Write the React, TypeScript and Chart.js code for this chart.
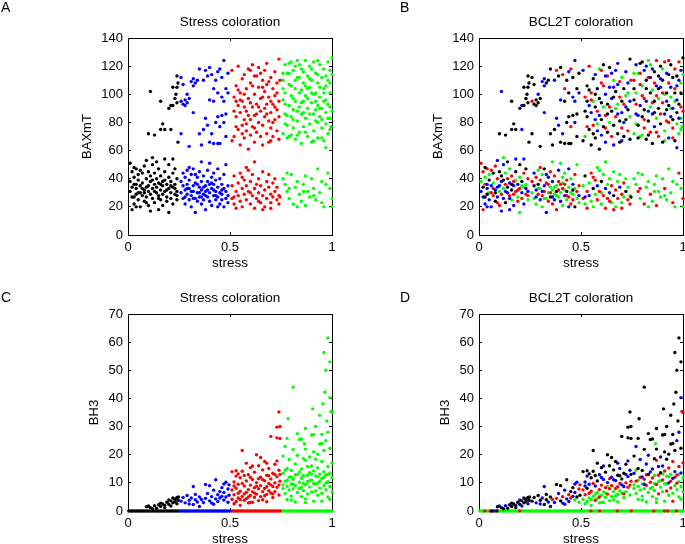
import { useEffect, useRef } from "react";
import { Chart, registerables } from "chart.js";

Chart.register(...registerables);

type Pt = [number, number, number]; // [stress, value, BCL2T class 0..3]

// ---------------- BAXmT vs stress (panels A, B) ----------------
// grouped by stress quartile (colour in panel A); third entry = BCL2T class (colour in panel B)
const baxStressQ1Low: Pt[] = [
  [0.01,38,3],[0.01,31,1],[0.02,45,2],[0.02,27,1],[0.02,34,0],[0.03,41,3],[0.03,22,1],[0.03,36,2],[0.04,29,0],[0.04,47,2],
  [0.04,33,1],[0.05,25,1],[0.05,39,0],[0.05,43,3],[0.06,30,2],[0.06,20,1],[0.06,35,1],[0.07,44,0],[0.07,28,2],[0.07,37,3],
  [0.08,32,1],[0.08,49,2],[0.08,24,0],[0.09,40,2],[0.09,34,1],[0.09,27,1],[0.10,45,0],[0.10,31,3],[0.10,21,2],[0.11,38,1],
  [0.11,29,2],[0.11,42,0],[0.12,33,3],[0.12,26,1],[0.12,50,1],[0.13,36,2],[0.13,44,3],[0.13,23,0],[0.14,30,1],[0.14,40,2],
  [0.14,34,0],[0.15,28,2],[0.15,47,3],[0.15,37,1],[0.16,25,3],[0.16,32,0],[0.16,42,2],[0.17,35,1],[0.17,29,2],[0.17,21,1],
  [0.18,39,3],[0.18,31,2],[0.18,45,0],[0.19,27,3],[0.19,36,1],[0.19,24,2],[0.20,33,2],[0.20,41,3],[0.20,16,3],[0.21,30,1],
  [0.21,38,0],[0.21,26,2],[0.22,44,2],[0.22,34,3],[0.22,22,1],[0.23,29,2],[0.23,47,0],[0.23,36,3],[0.24,31,1],[0.24,25,3],
  [0.24,40,2],[0.02,18,2],[0.04,20,1],[0.01,51,2],[0.03,48,0],[0.06,46,2],[0.09,53,1],[0.12,55,3],[0.14,52,0],[0.18,54,1],
  [0.20,50,0],[0.22,54,1],[0.11,17,1],[0.15,18,1],[0.08,30,0],[0.13,31,1],[0.19,32,2],[0.16,36,0],[0.10,35,1],[0.07,33,2],
  [0.05,30,3],[0.21,35,3],[0.23,33,1],[0.17,38,2],[0.12,39,0],[0.04,36,1],[0.24,28,2],[0.15,26,1],[0.09,23,2],[0.03,27,0],
];
const baxStressQ1High: Pt[] = [
  [0.11,102,1],[0.10,72,0],[0.13,71,0],[0.16,75,0],[0.17,79,0],[0.18,75,0],[0.16,95,0],[0.21,92,1],[0.22,92,0],[0.22,105,0],
  [0.24,105,0],[0.245,108,0],[0.23,97,0],[0.24,94,0],[0.21,75,1],[0.245,66,0],[0.20,90,0],[0.235,100,0],[0.24,113,0],
];
const baxStressQ2High: Pt[] = [
  [0.26,112,0],[0.27,107,0],[0.26,95,2],[0.27,93,0],[0.28,96,0],[0.29,94,0],[0.28,92,0],[0.30,97,0],[0.29,100,1],[0.31,109,1],
  [0.32,111,1],[0.32,106,1],[0.33,108,0],[0.34,110,0],[0.32,87,1],[0.26,72,0],[0.30,63,0],[0.35,72,0],[0.37,75,0],[0.36,64,0],
  [0.39,78,1],[0.38,83,1],[0.40,66,0],[0.41,72,1],[0.42,65,0],[0.44,65,0],[0.45,65,0],[0.43,80,0],[0.44,84,0],[0.46,85,0],
  [0.47,80,1],[0.48,86,0],[0.45,77,2],[0.40,96,1],[0.42,95,0],[0.44,101,0],[0.46,98,1],[0.47,95,1],[0.48,104,0],[0.49,101,1],
  [0.39,113,0],[0.38,117,2],[0.40,119,0],[0.41,114,2],[0.43,110,0],[0.44,116,1],[0.45,118,2],[0.46,112,0],[0.47,124,1],[0.49,115,0],
  [0.37,110,1],[0.42,104,2],[0.35,118,0],[0.48,70,0],
];
const baxStressQ2Low: Pt[] = [
  [0.26,38,2],[0.26,30,3],[0.27,44,1],[0.27,26,3],[0.27,35,0],[0.28,41,2],[0.28,22,3],[0.28,32,1],[0.29,29,2],[0.29,46,3],
  [0.29,36,0],[0.30,25,1],[0.30,39,2],[0.30,33,3],[0.31,28,2],[0.31,43,3],[0.31,20,3],[0.32,35,1],[0.32,31,2],[0.32,47,0],
  [0.33,26,3],[0.33,37,2],[0.33,16,1],[0.34,30,3],[0.34,41,1],[0.34,24,2],[0.35,34,3],[0.35,27,0],[0.35,45,2],[0.36,32,3],
  [0.36,22,2],[0.36,38,1],[0.37,29,3],[0.37,42,2],[0.37,25,1],[0.38,35,3],[0.38,18,2],[0.38,31,0],[0.39,27,3],[0.39,46,1],
  [0.39,38,2],[0.40,30,3],[0.40,24,1],[0.40,51,3],[0.41,33,2],[0.41,41,3],[0.41,21,3],[0.42,28,1],[0.42,36,2],[0.42,44,3],
  [0.43,31,0],[0.43,25,3],[0.43,39,2],[0.44,34,3],[0.44,27,2],[0.44,47,1],[0.45,30,3],[0.45,22,2],[0.45,40,3],[0.46,36,1],
  [0.46,29,3],[0.46,25,2],[0.47,33,3],[0.47,43,2],[0.47,20,0],[0.48,31,2],[0.48,26,3],[0.48,50,3],[0.49,35,2],[0.49,28,1],
  [0.49,23,3],[0.30,48,2],[0.36,52,3],[0.44,20,1],[0.33,43,1],[0.39,32,2],[0.41,37,3],[0.28,27,1],[0.35,30,2],[0.32,26,3],
  [0.37,34,3],[0.43,28,2],[0.46,32,0],[0.34,36,2],[0.29,33,3],[0.31,31,1],[0.38,28,3],[0.40,36,2],[0.42,32,3],[0.36,27,1],
];
const baxStressQ3High: Pt[] = [
  [0.51,117,1],[0.52,98,2],[0.52,70,3],[0.53,106,0],[0.53,84,0],[0.54,120,2],[0.54,92,1],[0.54,75,0],[0.55,101,2],[0.55,64,0],
  [0.55,87,1],[0.56,111,0],[0.56,78,2],[0.56,95,3],[0.57,82,1],[0.57,69,0],[0.57,114,1],[0.58,104,0],[0.58,88,2],[0.58,74,1],
  [0.59,118,3],[0.59,97,0],[0.59,61,0],[0.60,82,0],[0.60,108,2],[0.60,71,1],[0.61,91,3],[0.61,121,0],[0.61,77,0],[0.62,100,1],
  [0.62,85,2],[0.62,66,1],[0.63,113,2],[0.63,93,0],[0.63,73,0],[0.64,80,3],[0.64,105,1],[0.64,119,0],[0.65,88,0],[0.65,70,2],
  [0.65,97,1],[0.66,110,3],[0.66,78,0],[0.66,64,1],[0.67,102,0],[0.67,84,2],[0.67,117,1],[0.68,93,3],[0.68,72,0],[0.68,107,1],
  [0.69,81,0],[0.69,98,2],[0.69,66,0],[0.70,112,3],[0.70,87,1],[0.70,76,2],[0.71,104,0],[0.71,93,2],[0.71,70,0],[0.72,116,1],
  [0.72,82,0],[0.72,99,3],[0.73,108,1],[0.73,89,0],[0.73,74,2],[0.74,125,0],[0.74,95,1],[0.74,68,0],[0.52,88,0],[0.53,77,2],
  [0.57,100,0],[0.59,85,1],[0.61,106,2],[0.63,86,0],[0.65,115,1],[0.67,90,3],[0.69,109,2],[0.71,80,1],[0.73,101,3],[0.55,96,2],
  [0.60,94,0],[0.62,76,2],[0.66,98,0],[0.68,86,1],[0.70,95,0],[0.72,91,1],[0.58,79,3],[0.64,91,2],[0.51,67,0],[0.54,103,0],
  [0.56,72,0],[0.62,113,1],[0.70,67,1],[0.74,84,3],[0.60,117,2],[0.68,122,1],[0.66,105,1],[0.57,91,0],[0.53,95,0],[0.745,110,2],
];
const baxStressQ3Low: Pt[] = [
  [0.51,35,3],[0.51,26,2],[0.52,42,0],[0.52,22,3],[0.53,31,2],[0.53,19,2],[0.54,37,3],[0.54,28,1],[0.55,44,2],[0.55,24,3],
  [0.56,33,0],[0.56,20,3],[0.57,39,2],[0.57,29,3],[0.58,35,1],[0.58,25,2],[0.59,46,3],[0.59,31,2],[0.60,22,3],[0.60,38,0],
  [0.61,28,2],[0.61,43,3],[0.62,33,1],[0.62,52,3],[0.62,19,2],[0.63,36,3],[0.63,26,2],[0.64,40,3],[0.64,30,1],[0.65,23,3],
  [0.65,35,2],[0.66,45,3],[0.66,28,0],[0.67,32,2],[0.67,20,3],[0.68,38,3],[0.68,26,2],[0.69,34,1],[0.69,43,3],[0.70,29,2],
  [0.70,23,3],[0.71,37,2],[0.71,27,3],[0.72,40,3],[0.72,31,0],[0.73,25,2],[0.73,34,3],[0.74,22,2],[0.74,28,3],[0.58,48,3],
  [0.66,18,2],[0.52,27,1],[0.56,41,2],[0.60,30,3],[0.64,24,2],[0.70,19,2],[0.745,27,0],
];
const baxStressQ4High: Pt[] = [
  [0.76,110,2],[0.76,96,0],[0.76,72,3],[0.77,121,1],[0.77,86,1],[0.77,101,3],[0.78,115,3],[0.78,78,0],[0.78,69,0],[0.79,107,2],
  [0.79,92,1],[0.79,122,0],[0.80,84,0],[0.80,99,2],[0.80,71,3],[0.81,117,1],[0.81,89,0],[0.81,76,2],[0.82,104,0],[0.82,68,0],
  [0.82,95,1],[0.83,112,2],[0.83,81,0],[0.83,124,3],[0.84,91,3],[0.84,73,2],[0.84,101,0],[0.85,118,1],[0.85,86,1],[0.85,65,0],
  [0.86,108,2],[0.86,95,0],[0.86,77,1],[0.87,124,2],[0.87,83,3],[0.87,99,2],[0.88,113,0],[0.88,70,2],[0.88,90,0],[0.89,105,1],
  [0.89,79,0],[0.89,120,0],[0.90,94,2],[0.90,66,0],[0.90,110,0],[0.91,86,1],[0.91,123,2],[0.91,74,3],[0.92,101,0],[0.92,115,1],
  [0.92,81,2],[0.93,92,0],[0.93,69,1],[0.93,108,2],[0.94,121,0],[0.94,84,1],[0.94,98,3],[0.95,76,2],[0.95,112,0],[0.95,90,1],
  [0.96,104,2],[0.96,67,0],[0.96,118,2],[0.97,87,0],[0.97,96,1],[0.97,79,3],[0.98,110,1],[0.98,123,2],[0.98,72,3],[0.99,91,2],
  [0.99,101,0],[0.99,83,3],[1.00,126,0],[1.00,114,3],[1.00,88,2],[0.995,77,3],[0.76,104,0],[0.77,93,2],[0.78,85,1],[0.79,115,2],
  [0.80,106,3],[0.81,97,2],[0.82,120,1],[0.83,88,1],[0.84,112,1],[0.85,94,2],[0.86,116,0],[0.87,106,1],[0.88,97,3],[0.89,86,2],
  [0.90,118,3],[0.91,100,3],[0.92,89,0],[0.93,114,0],[0.94,105,1],[0.95,82,0],[0.96,95,3],[0.97,113,0],[0.98,93,0],[0.99,117,1],
  [0.79,70,3],[0.83,71,0],[0.87,73,2],[0.91,67,3],[0.95,69,2],[0.99,75,3],[0.97,62,1],[0.93,80,2],[0.89,111,1],[0.85,103,3],
  [0.81,82,2],[0.77,79,3],[0.80,123,0],[0.86,87,0],[0.92,95,1],[0.94,90,3],[0.96,101,0],[0.98,83,1],[0.84,121,3],[0.88,104,0],
  [0.90,101,2],[0.82,110,0],[0.76,115,3],[0.93,124,2],[0.97,106,1],[0.99,108,3],
];
const baxStressQ4Low: Pt[] = [
  [0.76,40,3],[0.77,36,3],[0.78,31,2],[0.79,26,3],[0.80,43,3],[0.81,22,2],[0.82,34,3],[0.83,38,3],[0.84,29,2],[0.85,24,3],
  [0.86,36,3],[0.87,21,2],[0.88,31,3],[0.89,27,3],[0.90,40,3],[0.91,33,2],[0.92,25,3],[0.93,47,3],[0.94,30,3],[0.95,23,2],
  [0.96,20,3],[0.97,36,3],[0.98,44,2],[0.99,33,3],[1.00,26,2],[0.87,42,3],[0.83,20,3],[0.91,28,3],[0.79,33,2],[0.95,38,3],
  [1.00,20,3],[0.86,31,3],[0.78,44,3],
];

// ---------------- BH3 vs stress (panels C, D) ----------------
const bh3ZeroQ1: Pt[] = [
  [0.004,0,3],[0.013,0,3],[0.021,0,3],[0.029,0,2],[0.038,0,3],[0.046,0,3],[0.055,0,2],[0.062,0,0],[0.071,0,1],[0.079,0,2],
  [0.088,0,0],[0.096,0,3],[0.104,0,3],[0.113,0,3],[0.121,0,3],[0.132,0,3],[0.14,0,3],[0.148,0,3],[0.157,0,3],[0.166,0,3],
  [0.174,0,3],[0.183,0,3],[0.191,0,3],[0.2,0,2],[0.209,0,3],[0.217,0,3],[0.226,0,3],[0.234,0,3],[0.243,0,3],
];
const bh3ZeroQ2: Pt[] = [
  [0.251,0,3],[0.259,0,3],[0.268,0,3],[0.277,0,3],[0.285,0,3],[0.293,0,3],[0.302,0,3],[0.311,0,3],[0.319,0,3],[0.328,0,3],
  [0.336,0,3],[0.345,0,3],[0.353,0,3],[0.362,0,3],[0.37,0,3],[0.379,0,3],[0.388,0,3],[0.396,0,3],[0.405,0,3],[0.413,0,3],
  [0.421,0,3],[0.43,0,3],[0.439,0,3],[0.447,0,3],[0.456,0,3],[0.464,0,3],[0.473,0,3],[0.481,0,3],[0.49,0,3],[0.498,0,3],
];
const bh3ZeroQ3: Pt[] = [
  [0.507,0,3],[0.515,0,3],[0.524,0,3],[0.532,0,3],[0.541,0,3],[0.549,0,2],[0.558,0,3],[0.566,0,3],[0.575,0,3],[0.584,0,3],
  [0.592,0,2],[0.601,0,3],[0.609,0,3],[0.618,0,3],[0.626,0,3],[0.635,0,3],[0.643,0,3],[0.652,0,3],[0.661,0,3],[0.669,0,3],
  [0.678,0,2],[0.686,0,3],[0.695,0,3],[0.703,0,3],[0.712,0,3],[0.72,0,3],[0.729,0,3],[0.737,0,3],[0.746,0,2],
];
const bh3ZeroQ4: Pt[] = [
  [0.755,0,3],[0.763,0,3],[0.771,0,3],[0.78,0,3],[0.789,0,3],[0.797,0,3],[0.806,0,3],[0.814,0,3],[0.823,0,3],[0.831,0,3],
  [0.84,0,3],[0.849,0,3],[0.857,0,2],[0.866,0,3],[0.874,0,3],[0.883,0,3],[0.891,0,3],[0.9,0,3],[0.909,0,2],[0.917,0,3],
  [0.926,0,2],[0.934,0,3],[0.943,0,3],[0.951,0,3],[0.96,0,3],[0.968,0,2],[0.977,0,3],[0.985,0,3],[0.994,0,3],[1.0,0,3],
];
const bh3StressQ1: Pt[] = [
  [0.09,1.5,0],[0.10,1.8,1],[0.11,1.2,0],[0.12,0.8,0],[0.13,1.9,1],[0.14,1.0,0],[0.15,2.2,0],[0.16,1.6,0],[0.17,2.5,0],[0.18,2.0,1],
  [0.19,3.1,0],[0.20,2.4,0],[0.21,3.6,0],[0.21,1.8,1],[0.22,2.9,0],[0.23,4.2,0],[0.23,3.3,0],[0.24,2.6,1],[0.24,4.8,0],[0.245,3.8,0],
  [0.18,1.2,0],[0.20,3.9,1],[0.22,4.6,0],[0.16,2.8,0],[0.248,5.0,0],
];
const bh3StressQ2: Pt[] = [
  [0.26,3.5,0],[0.27,4.8,0],[0.28,2.9,1],[0.29,5.5,0],[0.30,3.8,0],[0.31,4.6,1],[0.32,8.7,1],[0.32,2.3,0],[0.33,5.9,0],[0.34,3.2,1],
  [0.35,1.6,0],[0.36,4.1,2],[0.37,3.0,1],[0.38,4.5,2],[0.38,9.4,0],[0.39,6.2,1],[0.40,3.6,0],[0.40,9.0,0],[0.41,5.1,2],[0.41,2.8,1],
  [0.42,7.4,1],[0.43,4.3,1],[0.43,11.1,0],[0.44,5.8,2],[0.44,3.4,1],[0.45,6.9,0],[0.45,4.6,2],[0.46,8.3,0],[0.46,5.2,1],[0.47,3.9,3],
  [0.47,6.6,1],[0.48,10.2,1],[0.48,5.0,0],[0.49,7.8,2],[0.49,3.1,3],[0.495,9.3,2],[0.495,5.6,0],[0.30,2.5,1],[0.35,5.0,0],[0.42,2.4,1],
  [0.47,9.6,1],[0.33,4.0,0],
];
const bh3StressQ3: Pt[] = [
  [0.51,4.2,3],[0.51,7.5,2],[0.51,14.0,0],[0.52,2.6,3],[0.52,10.3,1],[0.52,5.8,2],[0.53,3.4,3],[0.53,8.1,0],[0.53,12.4,1],[0.54,6.3,2],
  [0.54,4.6,3],[0.54,9.5,1],[0.55,2.0,3],[0.55,7.0,2],[0.55,11.8,0],[0.56,21.5,0],[0.56,5.2,3],[0.56,14.1,0],[0.57,3.8,2],[0.57,8.9,1],
  [0.57,6.1,3],[0.58,10.7,0],[0.58,4.4,3],[0.58,17.0,0],[0.59,7.6,2],[0.59,2.9,3],[0.59,12.9,1],[0.60,5.5,3],[0.60,9.2,2],[0.60,15.4,0],
  [0.61,3.1,3],[0.61,6.8,3],[0.61,11.2,1],[0.62,8.3,2],[0.62,4.9,3],[0.62,13.8,0],[0.63,20.0,0],[0.63,6.0,2],[0.63,10.1,1],[0.64,3.7,3],
  [0.64,7.9,2],[0.64,16.1,0],[0.65,5.1,3],[0.65,12.0,1],[0.65,9.0,2],[0.66,6.9,3],[0.66,14.6,0],[0.66,4.0,3],[0.67,10.8,1],[0.67,8.0,2],
  [0.67,17.6,0],[0.68,5.9,3],[0.68,12.7,0],[0.68,3.3,3],[0.69,9.8,2],[0.69,15.1,1],[0.69,7.2,3],[0.70,26.5,0],[0.70,11.4,0],[0.70,6.4,3],
  [0.71,8.7,1],[0.71,4.8,3],[0.71,13.4,0],[0.72,10.0,2],[0.72,16.6,0],[0.72,6.9,3],[0.73,29.8,0],[0.73,26.0,0],[0.73,12.2,1],[0.73,8.4,2],
  [0.74,35.2,0],[0.74,14.5,1],[0.74,5.7,3],[0.745,30.0,0],[0.745,25.8,0],[0.745,10.6,2],[0.52,8.9,1],[0.54,13.2,0],[0.56,9.8,2],[0.58,6.6,3],
  [0.60,11.9,1],[0.62,6.4,3],[0.64,11.5,2],[0.66,11.1,1],[0.68,8.6,2],[0.70,9.3,1],[0.72,13.0,1],[0.74,9.2,2],[0.55,4.1,3],[0.59,5.0,2],
  [0.63,8.8,3],[0.67,5.4,3],[0.71,6.1,2],[0.57,12.6,0],[0.65,19.0,0],[0.69,12.5,0],[0.61,16.0,1],[0.53,14.3,0],[0.73,17.8,1],[0.60,3.0,3],
  [0.68,17.0,1],[0.745,13.0,0],
];
const bh3StressQ4: Pt[] = [
  [0.98,61.5,0],[0.96,56.3,0],[0.99,53.0,0],[0.97,50.0,0],[0.81,44.0,0],[0.965,42.2,0],[0.99,40.3,1],[0.955,38.0,0],[0.905,36.3,0],[0.995,35.4,2],
  [0.94,34.0,0],[0.785,32.8,0],[0.92,30.0,0],[0.87,29.3,0],[0.98,28.0,1],[0.90,27.0,0],[0.91,27.2,0],[0.85,25.6,0],[0.78,25.8,0],[0.95,24.0,0],
  [0.865,23.9,3],[0.76,13.4,1],[0.76,8.0,3],[0.76,19.5,0],[0.77,10.6,2],[0.77,6.2,3],[0.77,22.9,1],[0.78,15.1,0],[0.78,8.8,3],[0.78,4.1,3],
  [0.79,12.0,2],[0.79,7.5,3],[0.79,18.3,1],[0.80,9.6,3],[0.80,14.4,0],[0.80,5.3,3],[0.81,11.3,2],[0.81,21.9,0],[0.81,7.9,3],[0.82,16.7,1],
  [0.82,9.1,2],[0.82,3.2,3],[0.83,13.0,0],[0.83,6.6,3],[0.83,19.8,1],[0.84,10.2,2],[0.84,8.0,3],[0.84,25.4,0],[0.85,14.9,1],[0.85,5.1,3],
  [0.85,11.7,2],[0.86,18.6,0],[0.86,7.3,3],[0.86,12.6,3],[0.87,9.4,2],[0.87,22.0,0],[0.87,4.3,3],[0.88,15.8,1],[0.88,10.5,3],[0.88,6.1,2],
  [0.89,13.6,0],[0.89,8.5,3],[0.89,19.2,1],[0.90,11.0,2],[0.90,6.8,3],[0.90,16.0,1],[0.91,9.7,3],[0.91,14.2,2],[0.91,21.0,0],[0.92,7.1,2],
  [0.92,12.4,3],[0.92,18.4,0],[0.93,10.0,1],[0.93,5.6,3],[0.93,15.3,2],[0.94,13.1,3],[0.94,8.2,2],[0.94,23.8,0],[0.95,11.6,1],[0.95,6.3,3],
  [0.95,17.6,2],[0.96,9.0,3],[0.96,14.0,1],[0.96,21.5,0],[0.97,12.8,2],[0.97,7.6,3],[0.97,25.0,1],[0.98,10.4,3],[0.98,15.8,2],[0.98,5.0,3],
  [0.99,13.5,1],[0.99,8.7,3],[0.99,22.3,0],[1.00,11.9,3],[1.00,17.1,2],[1.00,6.9,3],[1.00,35.0,2],[0.80,12.1,1],[0.84,13.9,1],[0.88,12.7,2],
  [0.92,9.6,3],[0.96,12.0,2],[0.78,10.9,3],[0.82,12.9,2],[0.86,9.8,3],[0.90,13.2,3],[0.94,10.6,2],[0.98,13.0,3],[0.77,14.5,3],[0.81,9.5,1],
  [0.85,8.4,3],[0.89,10.8,3],[0.93,12.2,3],[0.97,9.9,2],[0.80,3.9,3],[0.87,3.0,3],[0.95,3.5,2],[0.99,4.2,3],[0.83,27.5,0],[0.91,3.5,3],
  [0.76,9.3,3],[0.975,32.0,0],[0.87,18.0,2],[0.93,20.2,0],[0.95,27.2,0],
];

// axis tick settings
const baxTicks = { min: 0, max: 140, step: 20 };
const bh3Ticks = { min: 0, max: 70, step: 10 };
const stressTicks = { min: 0, max: 1, step: 0.5 };

// ---------------- styling / layout ----------------
const COLORS = ["#000000", "#0000ff", "#ff0000", "#00ff00"];
const FONT = "'Liberation Sans', Arial, Helvetica, sans-serif";
const W = 685;
const H = 544;

type Group = { quartile: number; pts: Pt[] };

const baxGroups: Group[] = [
  { quartile: 0, pts: baxStressQ1Low }, { quartile: 0, pts: baxStressQ1High },
  { quartile: 1, pts: baxStressQ2High }, { quartile: 1, pts: baxStressQ2Low },
  { quartile: 2, pts: baxStressQ3High }, { quartile: 2, pts: baxStressQ3Low },
  { quartile: 3, pts: baxStressQ4High }, { quartile: 3, pts: baxStressQ4Low },
];
const bh3Groups: Group[] = [
  { quartile: 0, pts: bh3ZeroQ1 }, { quartile: 0, pts: bh3StressQ1 },
  { quartile: 1, pts: bh3ZeroQ2 }, { quartile: 1, pts: bh3StressQ2 },
  { quartile: 2, pts: bh3ZeroQ3 }, { quartile: 2, pts: bh3StressQ3 },
  { quartile: 3, pts: bh3ZeroQ4 }, { quartile: 3, pts: bh3StressQ4 },
];

type Panel = {
  letter: string; letterX: number; letterY: number;
  title: string; yLabel: string; yTitleGap: number;
  area: { left: number; top: number; right: number; bottom: number };
  groups: Group[]; colorBy: "stress" | "bcl2";
  yTicks: { min: number; max: number; step: number };
};

const panels: Panel[] = [
  { letter: "A", letterX: 1, letterY: 8, title: "Stress coloration", yLabel: "BAXmT", yTitleGap: 41,
    area: { left: 128, top: 38, right: 332, bottom: 235 }, groups: baxGroups, colorBy: "stress", yTicks: baxTicks },
  { letter: "B", letterX: 400, letterY: 8, title: "BCL2T coloration", yLabel: "BAXmT", yTitleGap: 41,
    area: { left: 479, top: 38, right: 683, bottom: 235 }, groups: baxGroups, colorBy: "bcl2", yTicks: baxTicks },
  { letter: "C", letterX: 1, letterY: 298, title: "Stress coloration", yLabel: "BH3", yTitleGap: 34,
    area: { left: 128, top: 314, right: 332, bottom: 511 }, groups: bh3Groups, colorBy: "stress", yTicks: bh3Ticks },
  { letter: "D", letterX: 400, letterY: 298, title: "BCL2T coloration", yLabel: "BH3", yTitleGap: 34,
    area: { left: 479, top: 314, right: 683, bottom: 511 }, groups: bh3Groups, colorBy: "bcl2", yTicks: bh3Ticks },
];

function buildDatasets(p: Panel) {
  return [0, 1, 2, 3].map((c) => {
    const data: { x: number; y: number }[] = [];
    p.groups.forEach((g) => {
      g.pts.forEach((pt) => {
        const cls = p.colorBy === "stress" ? g.quartile : pt[2];
        if (cls === c) data.push({ x: pt[0], y: pt[1] });
      });
    });
    return {
      data,
      backgroundColor: COLORS[c],
      borderWidth: 0,
      pointRadius: 1.7,
      pointHoverRadius: 1.7,
      clip: false as const,
    };
  });
}

function makeTextPlugin(p: Panel) {
  return {
    id: "panelText" + p.letter,
    afterDraw(chart: Chart) {
      const ctx = chart.ctx;
      const a = chart.chartArea;
      const cx = (a.left + a.right) / 2;
      ctx.save();
      ctx.fillStyle = "#000";
      ctx.textBaseline = "middle";
      ctx.textAlign = "left";
      ctx.font = `14px ${FONT}`;
      ctx.fillText(p.letter, p.letterX, p.letterY);
      ctx.textAlign = "center";
      ctx.font = `13.5px ${FONT}`;
      ctx.fillText(p.title, cx, a.top - 15.5);
      ctx.fillText("stress", cx, a.bottom + 28.5);
      ctx.translate(a.left - p.yTitleGap, (a.top + a.bottom) / 2);
      ctx.rotate(-Math.PI / 2);
      ctx.font = `13px ${FONT}`;
      ctx.fillText(p.yLabel, 0, 0);
      ctx.restore();
    },
  };
}

function axisCommon() {
  return {
    grid: { drawOnChartArea: false, drawTicks: true, tickLength: -3, color: "#000", lineWidth: 1 },
    border: { display: true, color: "#000", width: 1 },
  };
}

function buildConfig(p: Panel): any {
  const a = p.area;
  const tickFont = { family: FONT, size: 13 };
  return {
    type: "scatter",
    data: { datasets: buildDatasets(p) },
    options: {
      animation: false,
      responsive: false,
      events: [],
      layout: { padding: 0 },
      plugins: { legend: { display: false }, tooltip: { enabled: false }, title: { display: false } },
      scales: {
        x: {
          type: "linear", position: "bottom", min: stressTicks.min, max: stressTicks.max,
          ticks: {
            stepSize: stressTicks.step, color: "#000", font: tickFont, padding: 8, maxRotation: 0, autoSkip: false,
            callback: (v: number) => String(v),
          },
          ...axisCommon(),
          afterFit: (s: any) => { s.height = H - a.bottom; s.paddingLeft = 0; s.paddingRight = 0; },
        },
        x2: {
          type: "linear", position: "top", min: stressTicks.min, max: stressTicks.max,
          ticks: { display: false, stepSize: stressTicks.step },
          ...axisCommon(),
          afterFit: (s: any) => { s.height = a.top; s.paddingLeft = 0; s.paddingRight = 0; },
        },
        y: {
          type: "linear", position: "left", min: p.yTicks.min, max: p.yTicks.max,
          ticks: { stepSize: p.yTicks.step, color: "#000", font: tickFont, padding: 8, autoSkip: false },
          ...axisCommon(),
          afterFit: (s: any) => { s.width = a.left; s.paddingTop = 0; s.paddingBottom = 0; },
        },
        y2: {
          type: "linear", position: "right", min: p.yTicks.min, max: p.yTicks.max,
          ticks: { display: false, stepSize: p.yTicks.step },
          ...axisCommon(),
          afterFit: (s: any) => { s.width = W - a.right; s.paddingTop = 0; s.paddingBottom = 0; },
        },
      },
    },
    plugins: [makeTextPlugin(p)],
  };
}

function PanelCanvas({ panel }: { panel: Panel }) {
  const ref = useRef<HTMLCanvasElement | null>(null);
  useEffect(() => {
    if (!ref.current) return;
    const chart = new Chart(ref.current, buildConfig(panel));
    return () => chart.destroy();
  }, [panel]);
  return (
    <canvas
      ref={ref}
      width={W}
      height={H}
      style={{ position: "absolute", left: 0, top: 0, width: W, height: H }}
    />
  );
}

export default function App() {
  return (
    <div style={{ position: "fixed", left: 0, top: 0, width: W, height: H, background: "#fff", overflow: "hidden" }}>
      {panels.map((p) => (
        <PanelCanvas key={p.letter} panel={p} />
      ))}
    </div>
  );
}
